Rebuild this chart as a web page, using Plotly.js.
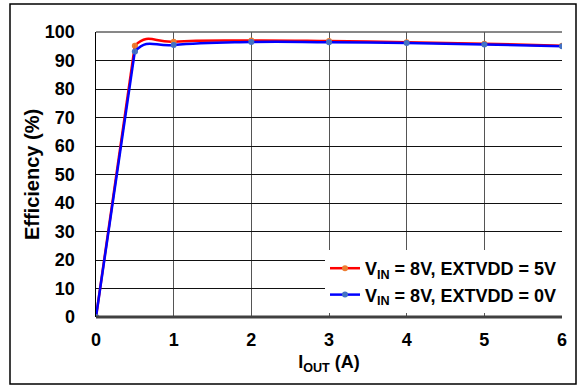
<!DOCTYPE html>
<html>
<head>
<meta charset="utf-8">
<script src="https://cdn.plot.ly/plotly-3.0.1.min.js"></script>
<style>body{margin:0;background:#fff}#chart{width:581px;height:386px}</style>
</head>
<body>
<div id="chart"></div>
<script>
const iout = [0, 0.5, 1, 2, 3, 4, 5, 6];
const effExt5 = [0, 95.2, 96.6, 97.0, 96.8, 96.4, 95.9, 95.2];
const effExt0 = [0, 93.2, 95.4, 96.5, 96.4, 96.1, 95.6, 95.0];
const seriesNames = ['<b>V<sub>IN</sub> = 8V, EXTVDD = 5V</b>', '<b>V<sub>IN</sub> = 8V, EXTVDD = 0V</b>'];
const lineColors = ['#FF0000', '#0000FF'];
const markerColors = ['#ED7D31', '#4472C4'];
const xTicks = [0, 1, 2, 3, 4, 5, 6];
const yTicks = [0, 10, 20, 30, 40, 50, 60, 70, 80, 90, 100];

const FAM = 'Liberation Sans, Arial, sans-serif';
const series = [effExt5, effExt0];
const traces = [];
series.forEach((ys, i) => {
  // straight rising segment (first two points), on the main axis
  traces.push({x: iout.slice(0, 2), y: ys.slice(0, 2), xaxis: 'x', yaxis: 'y',
    mode: 'lines+markers', showlegend: false, legendgroup: 'g' + i,
    line: {color: lineColors[i], width: 2.5},
    marker: {color: markerColors[i], size: 6}});
});
series.forEach((ys, i) => {
  // smoothed curve through all points, clipped to x >= 0.5 by the second axis domain
  traces.push({x: iout, y: ys, xaxis: 'x2', yaxis: 'y', name: seriesNames[i],
    mode: 'lines+markers', legendgroup: 'g' + i,
    line: {color: lineColors[i], width: 2.5, shape: 'spline', smoothing: 1.3},
    marker: {color: markerColors[i], size: 6}});
});

const L = 96, R = 562, T = 32, B = 317, W = 581, H = 386;
const layout = {
  width: W, height: H,
  margin: {l: L, r: W - R, t: T, b: H - B},
  paper_bgcolor: '#fff', plot_bgcolor: 'rgba(0,0,0,0)',
  font: {family: FAM, size: 18, color: '#000'},
  showlegend: true,
  legend: {x: 1, y: 0.014, xanchor: 'right', yanchor: 'bottom', bgcolor: '#fff',
    font: {family: FAM, size: 18, color: '#000'}, itemwidth: 30, tracegroupgap: 0,
    traceorder: 'normal'},
  xaxis: {range: [0, 6], domain: [0, 1], tickvals: xTicks, ticktext: xTicks.map(v => '<b>' + v + '</b>'),
    showgrid: true, gridcolor: '#555', gridwidth: 1,
    zeroline: false, showline: false, ticks: '', ticklabelstandoff: 10,
    tickfont: {family: FAM, size: 18, color: '#000'},
    title: {text: '<b>I<sub>OUT</sub> (A)</b>', font: {family: FAM, size: 18, color: '#000'}, standoff: 6},
    fixedrange: true},
  xaxis2: {range: [0.5, 6], domain: [0.5 / 6, 1], anchor: 'y', visible: false, showgrid: false,
    zeroline: false, fixedrange: true},
  yaxis: {range: [0, 100], tickvals: yTicks, ticktext: yTicks.map(v => '<b>' + v + '</b>'),
    showgrid: true, gridcolor: '#111', gridwidth: 1, anchor: 'x',
    zeroline: false, showline: true, linecolor: '#000', linewidth: 1.5, mirror: false,
    ticks: '', ticklabelstandoff: 16, tickfont: {family: FAM, size: 18, color: '#000'},
    title: {text: '<b>Efficiency (%)</b>', font: {family: FAM, size: 20, color: '#000'}, standoff: 0},
    fixedrange: true},
  shapes: [
    {type: 'rect', xref: 'paper', yref: 'paper',
     x0: (10 - L) / (R - L), x1: (576 - L) / (R - L),
     y0: (B - 384) / (B - T), y1: (B - 4) / (B - T),
     line: {color: '#000', width: 1.5}, fillcolor: 'rgba(0,0,0,0)', layer: 'above'},
    {type: 'line', xref: 'paper', yref: 'paper', x0: 0, x1: 1, y0: 1, y1: 1,
     line: {color: '#111', width: 1}, layer: 'below'},
    {type: 'line', xref: 'paper', yref: 'paper', x0: 0, x1: 1, y0: 0, y1: 0,
     line: {color: '#404040', width: 3}, layer: 'above'}
  ]
};
Plotly.newPlot('chart', traces, layout, {displayModeBar: false, staticPlot: true});
</script>
</body>
</html>
